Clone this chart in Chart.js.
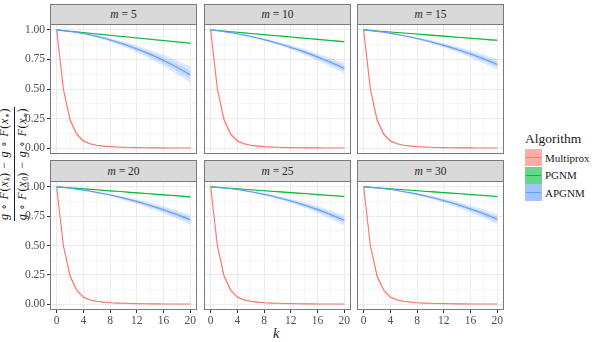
<!DOCTYPE html>
<html>
<head>
<meta charset="utf-8">
<script src="https://cdn.jsdelivr.net/npm/chart.js@4.4.0/dist/chart.umd.min.js"></script>
<style>
body { margin: 0; background: #fff; width: 598px; height: 342px; overflow: hidden; position: relative; font-family: "Liberation Serif", "Times New Roman", Times, "DejaVu Serif", serif; }
canvas { position: absolute; }
.strip { position: absolute; background: #d9d9d9; border: 1px solid #7a7a7a; box-sizing: border-box; text-align: center; font-size: 11.5px; font-weight: normal; color: #262626; }
.legenda { position: absolute; left: 525px; top: 131px; font-size: 11px; color: #1a1a1a; }
.legenda .titulo { font-size: 13.5px; margin-bottom: 2px; }
.legenda .item { display: flex; align-items: center; height: 17.5px; }
.legenda .chave { width: 17px; height: 17px; position: relative; margin-right: 3px; }
.legenda .chave i { position: absolute; left: 1px; right: 1px; top: 8px; height: 1px; }
#tituloX { position: absolute; left: 273px; top: 326px; font-size: 14px; font-style: italic; color: #1a1a1a; }
#tituloY { position: absolute; left: 14.5px; top: 164px; transform: translate(-50%, -50%) rotate(-90deg); font-size: 12px; letter-spacing: 0.7px; color: #1a1a1a; text-align: center; white-space: nowrap; }
#tituloY .num { border-bottom: 1px solid #1a1a1a; padding: 0 1px 0; line-height: 12px; }
#tituloY .den { padding-top: 1px; line-height: 12px; }
#tituloY sub { font-size: 8px; vertical-align: -2px; letter-spacing: 0; }
</style>
</head>
<body>
<div id="tituloY">
  <div class="num"><i>g</i> ∘ <i>F</i>(<i>x</i><sub><i>k</i></sub>) − <i>g</i> ∘ <i>F</i>(<i>x</i><sub>∗</sub>)</div>
  <div class="den"><i>g</i> ∘ <i>F</i>(<i>x</i><sub>0</sub>) − <i>g</i> ∘ <i>F</i>(<i>x</i><sub>∗</sub>)</div>
</div>
<div id="tituloX">k</div>
<div class="legenda" id="legenda"></div>
<script>

const kValues = [0, 1, 2, 3, 4, 5, 6, 7, 8, 9, 10, 11, 12, 13, 14, 15, 16, 17, 18, 19, 20];
const mValues = [5, 10, 15, 20, 25, 30];
const algoritmos = ['Multiprox', 'PGNM', 'APGNM'];

const xMajor = [0, 4, 8, 12, 16, 20];
const xGrid = [0, 2, 4, 6, 8, 10, 12, 14, 16, 18, 20];
const yMajor = [0, 0.25, 0.5, 0.75, 1];
const yGrid = [0, 0.125, 0.25, 0.375, 0.5, 0.625, 0.75, 0.875, 1];

// Multiprox is practically the same in every panel
const multiprox = [1, 0.5, 0.24, 0.118, 0.06, 0.036, 0.024, 0.017, 0.012, 0.009, 0.007, 0.005, 0.004, 0.003, 0.002, 0.002, 0.0015, 0.001, 0.001, 0.001, 0.001];
const multiproxSpread = [0, 0.02, 0.02, 0.015, 0.01, 0.007, 0.005, 0.004, 0.003, 0.003, 0.002, 0.002, 0.002, 0.001, 0.001, 0.001, 0.001, 0.001, 0.001, 0.001, 0.001];

const pgnm5 = [1, 0.994, 0.989, 0.983, 0.977, 0.972, 0.966, 0.960, 0.955, 0.949, 0.944, 0.938, 0.932, 0.927, 0.921, 0.915, 0.910, 0.904, 0.898, 0.893, 0.887];
const pgnm10 = [1, 0.995, 0.990, 0.985, 0.980, 0.975, 0.970, 0.965, 0.960, 0.955, 0.950, 0.945, 0.940, 0.935, 0.930, 0.925, 0.920, 0.915, 0.910, 0.905, 0.900];
const pgnm15 = [1, 0.996, 0.991, 0.987, 0.982, 0.978, 0.974, 0.969, 0.965, 0.960, 0.956, 0.952, 0.947, 0.943, 0.938, 0.934, 0.930, 0.925, 0.921, 0.916, 0.912];
const pgnm20 = [1, 0.996, 0.992, 0.987, 0.983, 0.979, 0.975, 0.970, 0.966, 0.962, 0.958, 0.953, 0.949, 0.945, 0.941, 0.936, 0.932, 0.928, 0.924, 0.919, 0.915];
const pgnm25 = [1, 0.996, 0.992, 0.988, 0.984, 0.980, 0.975, 0.971, 0.967, 0.963, 0.959, 0.955, 0.951, 0.947, 0.943, 0.939, 0.934, 0.930, 0.926, 0.922, 0.918];
const pgnm30 = [1, 0.996, 0.992, 0.988, 0.984, 0.980, 0.975, 0.971, 0.967, 0.963, 0.959, 0.955, 0.951, 0.947, 0.943, 0.939, 0.934, 0.930, 0.926, 0.922, 0.918];
const pgnmSpread = [0, 0.001, 0.001, 0.002, 0.002, 0.003, 0.003, 0.003, 0.004, 0.004, 0.005, 0.005, 0.005, 0.006, 0.006, 0.007, 0.007, 0.007, 0.008, 0.008, 0.009];

const apgnm5 = [1, 0.994, 0.987, 0.979, 0.969, 0.958, 0.945, 0.931, 0.915, 0.898, 0.880, 0.860, 0.839, 0.817, 0.793, 0.768, 0.741, 0.713, 0.683, 0.652, 0.620];
const apgnm10 = [1, 0.993, 0.985, 0.977, 0.967, 0.956, 0.944, 0.931, 0.918, 0.903, 0.887, 0.870, 0.852, 0.834, 0.814, 0.793, 0.771, 0.748, 0.725, 0.700, 0.674];
const apgnm15 = [1, 0.994, 0.987, 0.980, 0.971, 0.962, 0.951, 0.940, 0.927, 0.914, 0.900, 0.885, 0.869, 0.852, 0.834, 0.816, 0.796, 0.775, 0.754, 0.731, 0.708];
const apgnm20 = [1, 0.994, 0.988, 0.980, 0.972, 0.963, 0.953, 0.942, 0.930, 0.918, 0.904, 0.890, 0.874, 0.858, 0.841, 0.823, 0.804, 0.784, 0.764, 0.742, 0.720];
const apgnm25 = [1, 0.996, 0.990, 0.984, 0.977, 0.968, 0.959, 0.948, 0.936, 0.924, 0.910, 0.895, 0.879, 0.863, 0.845, 0.826, 0.806, 0.785, 0.762, 0.739, 0.715];
const apgnm30 = [1, 0.996, 0.990, 0.984, 0.977, 0.969, 0.959, 0.949, 0.938, 0.925, 0.912, 0.898, 0.882, 0.866, 0.849, 0.831, 0.811, 0.791, 0.770, 0.747, 0.724];
const apgnmSpreadLarga = [0, 0.001, 0.002, 0.004, 0.006, 0.008, 0.010, 0.013, 0.016, 0.019, 0.022, 0.026, 0.030, 0.034, 0.038, 0.043, 0.048, 0.053, 0.058, 0.064, 0.070];
const apgnmSpread = [0, 0.001, 0.002, 0.003, 0.004, 0.005, 0.007, 0.008, 0.010, 0.012, 0.014, 0.016, 0.018, 0.021, 0.024, 0.027, 0.030, 0.033, 0.036, 0.040, 0.045];

const pgnmPorPainel = [pgnm5, pgnm10, pgnm15, pgnm20, pgnm25, pgnm30];
const apgnmPorPainel = [apgnm5, apgnm10, apgnm15, apgnm20, apgnm25, apgnm30];
const apgnmSpreadPorPainel = [apgnmSpreadLarga, apgnmSpread, apgnmSpread, apgnmSpread, apgnmSpread, apgnmSpread];

const cores = {
    Multiprox: [248, 118, 109],
    PGNM: [0, 186, 56],
    APGNM: [97, 156, 255]
};

// panel geometry (page pixels)
const colLeft = [50, 204, 357];
const stripTop = [4, 160];
const plotTop = [24, 181];
const plotH = [130, 129];
const plotW = 147;
const margemEsq = 32;
const margemBaixo = 18;
const fonte = '"Liberation Serif", "Times New Roman", Times, "DejaVu Serif", serif';

function rgba(c, a) {
    return `rgba(${c[0]}, ${c[1]}, ${c[2]}, ${a})`;
}

function pontos(valores) {
    return kValues.map((k, i) => ({ x: k, y: valores[i] }));
}

function faixa(media, spread, fator, cor, ordem) {
    const baixo = media.map((v, i) => v - spread[i] * fator);
    const alto = media.map((v, i) => v + spread[i] * fator);
    return [
        { data: pontos(baixo), borderWidth: 0, pointRadius: 0, fill: false, order: ordem },
        { data: pontos(alto), borderWidth: 0, pointRadius: 0, fill: '-1', backgroundColor: cor, order: ordem }
    ];
}

function linha(media, cor, ordem) {
    return { data: pontos(media), borderColor: cor, borderWidth: 1.1, pointRadius: 0, fill: false, order: ordem };
}

const cadrePainel = {
    id: 'cadrePainel',
    afterDatasetsDraw(chart) {
        const { ctx, chartArea: a } = chart;
        ctx.save();
        ctx.strokeStyle = '#7a7a7a';
        ctx.lineWidth = 1;
        ctx.strokeRect(a.left + 0.5, a.top + 0.5, a.width - 1, a.height - 1);
        ctx.restore();
    }
};

function desenharPainel(indice) {
    const col = indice % 3;
    const row = Math.floor(indice / 3);
    const mostraY = col === 0;
    const mostraX = row === 1;

    const canvas = document.createElement('canvas');
    canvas.width = margemEsq + plotW + 2;
    canvas.height = 1 + plotH[row] + margemBaixo;
    canvas.style.left = (colLeft[col] - margemEsq) + 'px';
    canvas.style.top = (plotTop[row] - 1) + 'px';
    document.body.appendChild(canvas);

    const strip = document.createElement('div');
    strip.className = 'strip';
    strip.style.left = colLeft[col] + 'px';
    strip.style.top = stripTop[row] + 'px';
    strip.style.width = plotW + 'px';
    strip.style.height = (plotTop[row] - stripTop[row] + 1) + 'px';
    strip.style.lineHeight = (plotTop[row] - stripTop[row] - 1) + 'px';
    strip.innerHTML = '<i>m</i> = ' + mValues[indice];
    document.body.appendChild(strip);

    const vermelho = cores.Multiprox, verde = cores.PGNM, azul = cores.APGNM;
    const pg = pgnmPorPainel[indice];
    const ap = apgnmPorPainel[indice];
    const apSpread = apgnmSpreadPorPainel[indice];

    const datasets = [
        ...faixa(multiprox, multiproxSpread, 1, rgba(vermelho, 0.2), 10),
        ...faixa(multiprox, multiproxSpread, 0.5, rgba(vermelho, 0.2), 10),
        ...faixa(pg, pgnmSpread, 1, rgba(verde, 0.2), 9),
        ...faixa(pg, pgnmSpread, 0.5, rgba(verde, 0.2), 9),
        ...faixa(ap, apSpread, 1, rgba(azul, 0.22), 8),
        ...faixa(ap, apSpread, 0.5, rgba(azul, 0.22), 8),
        linha(multiprox, rgba(vermelho, 1), 3),
        linha(pg, rgba(verde, 1), 2),
        linha(ap, rgba(azul, 1), 1)
    ];

    new Chart(canvas.getContext('2d'), {
        type: 'line',
        data: { datasets: datasets },
        plugins: [cadrePainel],
        options: {
            responsive: false,
            animation: false,
            devicePixelRatio: 1,
            layout: { padding: { top: 1, right: 2, left: 0, bottom: 0 } },
            plugins: {
                legend: { display: false },
                tooltip: { enabled: false }
            },
            scales: {
                x: {
                    type: 'linear',
                    min: -1,
                    max: 21,
                    afterBuildTicks: s => { s.ticks = xGrid.map(v => ({ value: v })); },
                    afterFit: s => { s.height = margemBaixo; s.paddingLeft = 0; s.paddingRight = 0; },
                    border: { display: false },
                    grid: {
                        color: c => xMajor.includes(c.tick.value) ? '#ebebeb' : '#f5f5f5',
                        tickColor: c => (mostraX && xMajor.includes(c.tick.value)) ? '#333' : 'rgba(0,0,0,0)',
                        tickLength: 3
                    },
                    ticks: {
                        autoSkip: false,
                        maxRotation: 0,
                        padding: 1,
                        color: '#4d4d4d',
                        font: { family: fonte, size: 11.5, weight: 'normal' },
                        callback: v => (mostraX && xMajor.includes(v)) ? String(v) : ''
                    }
                },
                y: {
                    min: -0.05,
                    max: 1.05,
                    afterBuildTicks: s => { s.ticks = yGrid.map(v => ({ value: v })); },
                    afterFit: s => { s.width = margemEsq; s.paddingTop = 0; s.paddingBottom = 0; },
                    border: { display: false },
                    grid: {
                        color: c => yMajor.includes(c.tick.value) ? '#ebebeb' : '#f5f5f5',
                        tickColor: c => (mostraY && yMajor.includes(c.tick.value)) ? '#333' : 'rgba(0,0,0,0)',
                        tickLength: 3
                    },
                    ticks: {
                        autoSkip: false,
                        padding: 2,
                        color: '#4d4d4d',
                        font: { family: fonte, size: 11.5, weight: 'normal' },
                        callback: v => (mostraY && yMajor.includes(v)) ? v.toFixed(2) : ''
                    }
                }
            }
        }
    });
}

function montarLegenda() {
    const el = document.getElementById('legenda');
    let html = '<div class="titulo">Algorithm</div>';
    algoritmos.forEach(nome => {
        const c = cores[nome];
        html += `<div class="item"><div class="chave" style="background:${rgba(c, 0.6)}"><i style="background:${rgba(c, 1)}"></i></div>${nome}</div>`;
    });
    el.innerHTML = html;
}

document.addEventListener('DOMContentLoaded', function() {
    mValues.forEach((m, i) => desenharPainel(i));
    montarLegenda();
});
</script>
</body>
</html>
